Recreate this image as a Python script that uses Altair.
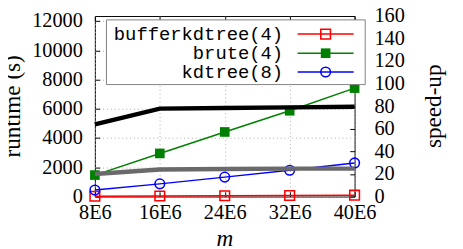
import altair as alt
import pandas as pd

# ---- data ----
m_values = [8e6, 16e6, 24e6, 32e6, 40e6]
x_ticks = [8e6, 16e6, 24e6, 32e6, 40e6]
series_names = ["bufferkdtree(4)", "brute(4)", "kdtree(8)"]
runtime_bufferkdtree = [23, 38, 56, 74, 93]
runtime_brute = [1470, 2950, 4420, 5870, 7420]
runtime_kdtree = [450, 870, 1330, 1800, 2300]
speedup_vs_brute = [64, 78, 78.5, 79, 79.6]
speedup_vs_kdtree = [20, 24, 24.4, 24.7, 24.8]
runtime_ticks = [0, 2000, 4000, 6000, 8000, 10000, 12000]
speedup_ticks = [0, 20, 40, 60, 80, 100, 120, 140, 160]
axis_titles = ["runtime (s)", "speed-up", "m"]

series_colors = ["#ff0000", "#008000", "#0000ff"]
series_shapes = ["square", "square", "circle"]
series_filled = [False, True, False]
runtime_series = [runtime_bufferkdtree, runtime_brute, runtime_kdtree]

SERIF = "Liberation Serif"
LABEL_FONT = "Liberation Serif"
MONO = "Liberation Mono"

xscale = alt.Scale(domain=[8e6, 40e6], nice=False, zero=False)


def y_rt_scale():
    return alt.Scale(domain=[0, 12350], nice=False, zero=True)


def y_sp_scale():
    return alt.Scale(domain=[0, 160], nice=False, zero=True)


font_props = dict(labelFont=LABEL_FONT, labelFontSize=21, labelColor="black",
                  tickColor="black", tickWidth=1, title=None)
grid_props = dict(grid=True, gridDash=[1, 3], gridColor="#aaaaaa", gridWidth=1)

x_bottom = alt.Axis(values=x_ticks, labelExpr="(datum.value/1000000) + 'E6'",
                    offset=-5, tickSize=5, domain=False, labelPadding=6,
                    labelFlush=False, labelOverlap=False,
                    **grid_props, **font_props)
x_top = alt.Axis(orient="top", values=x_ticks, labels=False, offset=-5, tickSize=5,
                 domain=False, grid=False, title=None, tickColor="black")
y_left = alt.Axis(values=runtime_ticks, format="d", offset=-5, tickSize=5, domain=False,
                  labelPadding=13, labelOverlap=False, labelFlush=False,
                  **grid_props, **font_props)
y_right = alt.Axis(orient="right", values=speedup_ticks, format="d", offset=-5, tickSize=5,
                   domain=False, labelPadding=20, labelOverlap=False, labelFlush=False,
                   grid=False, **font_props)

layers = []
# runtime series (left axis)
for i, (name, vals, col, shp, fil) in enumerate(zip(series_names, runtime_series, series_colors,
                                                    series_shapes, series_filled)):
    df = pd.DataFrame({"m": m_values, "v": vals})
    xa = x_bottom if i == 0 else None
    ya = y_left if i == 0 else None
    layers.append(alt.Chart(df).mark_line(color=col, strokeWidth=1.5).encode(
        x=alt.X("m:Q", scale=xscale, axis=xa),
        y=alt.Y("v:Q", scale=y_rt_scale(), axis=ya)))
    layers.append(alt.Chart(df).mark_point(shape=shp, filled=fil, color=col, size=100,
                                           strokeWidth=1.6, opacity=1).encode(
        x=alt.X("m:Q", scale=xscale, axis=None),
        y=alt.Y("v:Q", scale=y_rt_scale(), axis=None)))

# speed-up curves (right axis)
for i, (vals, col) in enumerate(zip([speedup_vs_brute, speedup_vs_kdtree],
                                    ["#000000", "#6a6a6a"])):
    df = pd.DataFrame({"m": m_values, "v": vals})
    xa = x_top if i == 0 else None
    ya = y_right if i == 0 else None
    layers.append(alt.Chart(df).mark_line(color=col, strokeWidth=4.5).encode(
        x=alt.X("m:Q", scale=xscale, axis=xa),
        y=alt.Y("v:Q", scale=y_sp_scale(), axis=ya)))

# axis titles as text
tdf = pd.DataFrame({"t": axis_titles})
layers.append(alt.Chart(tdf).transform_filter(alt.datum.t == axis_titles[0]).mark_text(
    font=SERIF, fontSize=24, angle=270, align="center", baseline="middle", color="black"
).encode(x=alt.value(-85), y=alt.value(93.5), text="t:N"))
layers.append(alt.Chart(tdf).transform_filter(alt.datum.t == axis_titles[1]).mark_text(
    font=SERIF, fontSize=24, angle=270, align="center", baseline="middle", color="black"
).encode(x=alt.value(352), y=alt.value(93.5), text="t:N"))
layers.append(alt.Chart(tdf).transform_filter(alt.datum.t == axis_titles[2]).mark_text(
    font=SERIF, fontSize=24, fontStyle="italic", align="center", baseline="alphabetic",
    color="black"
).encode(x=alt.value(134.5), y=alt.value(238), text="t:N"))

# legend (box with labels on the left, line samples on the right)
one = pd.DataFrame({"a": [0]})
layers.append(alt.Chart(one).mark_rect(fill="white", stroke="#808080", strokeWidth=1).encode(
    x=alt.value(12), x2=alt.value(280), y=alt.value(4), y2=alt.value(71)))
row_y = [18.7, 38.5, 58]
for name, col, shp, fil, ry in zip(series_names, series_colors, series_shapes,
                                   series_filled, row_y):
    ldf = pd.DataFrame({"name": [name]})
    layers.append(alt.Chart(ldf).mark_text(align="right", baseline="middle",
                                           font=MONO, fontSize=19.5, color="black").encode(
        x=alt.value(195), y=alt.value(ry), text="name:N"))
    layers.append(alt.Chart(ldf).mark_rule(color=col, strokeWidth=1.5).encode(
        x=alt.value(210), x2=alt.value(268), y=alt.value(ry)))
    layers.append(alt.Chart(ldf).mark_point(shape=shp, filled=fil, color=col, size=100,
                                            strokeWidth=1.6, opacity=1).encode(
        x=alt.value(239), y=alt.value(ry)))

chart = alt.layer(*layers).resolve_scale(y="independent").resolve_axis(
    x="independent", y="independent").properties(
    width=269, height=187,
    autosize=alt.AutoSizeParams(type="none"),
    padding={"left": 90, "top": 4, "right": 104, "bottom": 50},
).configure_view(stroke="black", strokeWidth=1).configure_axis(
    labelFont=LABEL_FONT,
)

chart.save("out.html", embed_options={"renderer": "svg", "actions": False})
